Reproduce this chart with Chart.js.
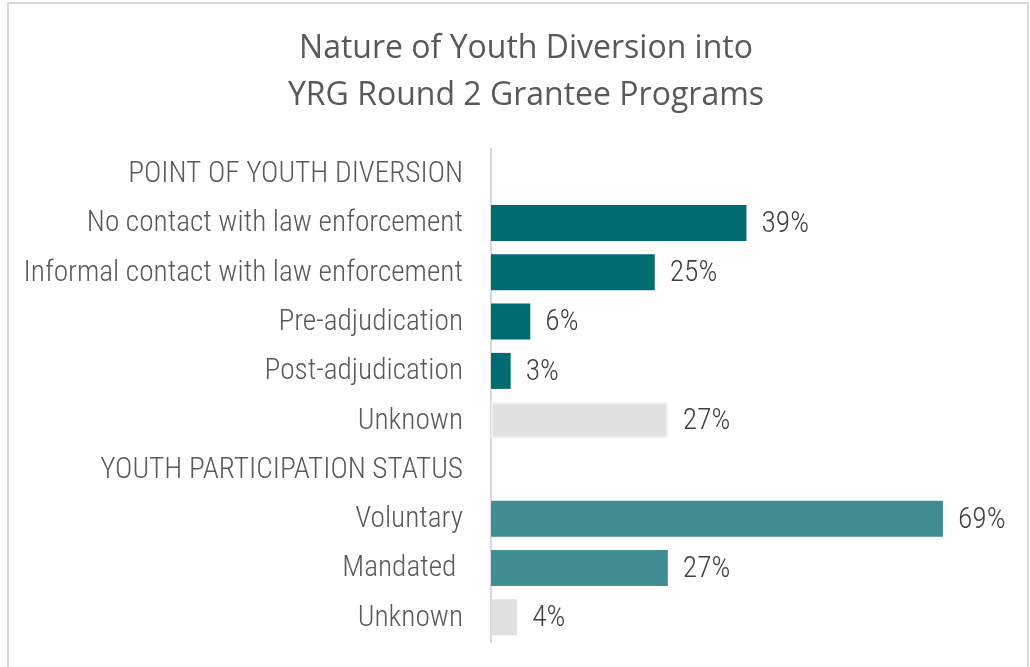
<!DOCTYPE html>
<html>
<head>
<meta charset="utf-8">
<script src="https://cdn.jsdelivr.net/npm/chart.js@4"></script>
<style>
  html, body { margin: 0; padding: 0; background: #ffffff; }
  #wrap { position: relative; width: 1030px; height: 667px; overflow: hidden; }
  #frame { position: absolute; left: 7px; top: 2px; width: 1018px; height: 700px; border: 2px solid #d9d9d9; }
  canvas { position: absolute; left: 0; top: 0; }
</style>
</head>
<body>
<div id="wrap">
  <div id="frame"></div>
  <canvas id="c" width="1030" height="667"></canvas>
</div>
<script>
// Row labels (section headers carry no value)
const categories = [
  'POINT OF YOUTH DIVERSION',
  'No contact with law enforcement',
  'Informal contact with law enforcement',
  'Pre-adjudication',
  'Post-adjudication',
  'Unknown',
  'YOUTH PARTICIPATION STATUS',
  'Voluntary',
  'Mandated ',
  'Unknown'
];

// Share of youth, percent
const percentValues = [null, 39, 25, 6, 3, 27, null, 69, 27, 4];

// Fill per row
const barColors = [
  '#006b70', '#006b70', '#006b70', '#006b70', '#006b70', '#e1e1e1',
  '#418e92', '#418e92', '#418e92', '#e1e1e1'
];
const barBorderWidths = [0, 0, 0, 0, 0, 2, 0, 0, 0, 0];

const titleLines = ['Nature of Youth Diversion into', 'YRG Round 2 Grantee Programs'];

const labelFont = { family: '"Roboto Condensed", Roboto, sans-serif', size: 29.3, weight: '300 condensed' };
const valueFont = { family: '"Roboto Condensed", Roboto, sans-serif', size: 29.5, weight: '300 condensed' };

// Writes "NN%" to the right of each bar
const valueLabels = {
  id: 'valueLabels',
  afterDatasetsDraw(chart) {
    const ctx = chart.ctx;
    const meta = chart.getDatasetMeta(0);
    ctx.save();
    ctx.font = Chart.helpers.toFont(valueFont).string;
    ctx.fillStyle = '#404040';
    ctx.textAlign = 'left';
    ctx.textBaseline = 'middle';
    meta.data.forEach((bar, i) => {
      const v = percentValues[i];
      if (v === null) return;
      ctx.fillText(v + '%', bar.x + 15, bar.y + 1.5);
    });
    ctx.restore();
  }
};

// Centre the title over the framed panel rather than the whole canvas
const titleBox = {
  id: 'titleBox',
  afterLayout(chart) {
    const t = chart.titleBlock;
    if (!t) return;
    t.left = 37;
    t.width = t.right - t.left;
  }
};

new Chart(document.getElementById('c'), {
  type: 'bar',
  data: {
    labels: categories,
    datasets: [{
      data: percentValues,
      backgroundColor: barColors,
      borderColor: '#f0f0f0',
      borderWidth: barBorderWidths,
      borderSkipped: false,
      categoryPercentage: 1,
      barPercentage: 0.73
    }]
  },
  options: {
    indexAxis: 'y',
    responsive: false,
    animation: false,
    layout: { padding: { left: 0, right: 15, top: 0, bottom: 25 } },
    plugins: {
      legend: { display: false },
      tooltip: { enabled: false },
      title: {
        display: true,
        text: titleLines,
        color: '#595959',
        font: { family: '"Open Sans", sans-serif', size: 32, weight: 'normal', lineHeight: 1.47 },
        padding: { top: 25.5, bottom: 29.5 }
      }
    },
    scales: {
      x: {
        display: false,
        min: 0,
        max: 80
      },
      y: {
        afterFit(scale) {
          scale.width = 491;
          scale.paddingTop = 0;
          scale.paddingBottom = 0;
        },
        grid: { display: false, drawTicks: false },
        border: { display: true, color: '#d9d9d9', width: 2 },
        ticks: {
          color: '#595959',
          font: labelFont,
          padding: 28,
          labelOffset: 1,
          autoSkip: false
        }
      }
    }
  },
  plugins: [valueLabels, titleBox]
});
</script>
</body>
</html>
